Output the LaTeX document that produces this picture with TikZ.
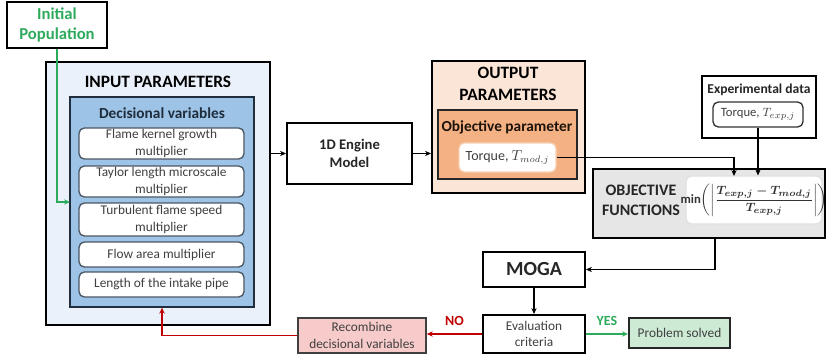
\documentclass[tikz,border=0pt]{standalone}
\usepackage{fontspec}
\setmainfont{Carlito}
\usetikzlibrary{fit,arrows.meta}
\definecolor{inpblue}{HTML}{EAF1FA}
\definecolor{decblue}{HTML}{9DC3E6}
\definecolor{outpeach}{HTML}{FBE5D6}
\definecolor{objorange}{HTML}{F4B183}
\definecolor{objgray}{HTML}{E7E6E6}
\definecolor{recpink}{HTML}{F8CBCB}
\definecolor{solgreen}{HTML}{CDEAD5}
\definecolor{grn}{HTML}{2EAA5C}
\definecolor{rd}{HTML}{C00000}
\definecolor{txt}{HTML}{3F3F3F}
\definecolor{navy}{HTML}{1F2D3D}
\newcommand\objformula{$\displaystyle\min\biggl(\biggl|\frac{T_{exp,j}-T_{mod,j}}{T_{exp,j}}\biggr|\biggr)$}
\tikzset{
  every node/.style={font=\fontsize{10}{12.5}\selectfont, text=txt, align=center, inner sep=0pt},
  bigbox/.style={draw=black, line width=1.5pt},
  varbox/.style={draw=navy!80, line width=1pt, fill=white, rounded corners=4pt},
  conn/.style={line width=1.2pt, -{Stealth[length=4.5pt,width=4pt]}},
  ttl/.style={font=\bfseries\fontsize{13}{17}\selectfont, text=black},
  sub/.style={font=\bfseries\fontsize{11.5}{14}\selectfont, text=navy},
  bold/.style={font=\bfseries\fontsize{11}{13.5}\selectfont, text=black!85},
  lbl/.style={font=\bfseries\fontsize{10.5}{12}\selectfont},
}
\begin{document}
\begin{tikzpicture}[x=0.75pt,y=-0.75pt]
\useasboundingbox (0,0) rectangle (826,354);
% input parameters
\node[bigbox, fill=inpblue, fit={(46,62) (270,325)}] (inp) {};
\node[ttl] (inpt) at (158,82) {INPUT PARAMETERS};
\node[draw=navy, line width=1pt, fill=decblue, fit={(70,97) (254,307)}] (dec) {};
\node[sub] (dect) at (162,113) {Decisional variables};
\node[varbox, fit={(79,128) (244,159)}] (v1) {};
\node[varbox, fit={(79,166) (244,197)}] (v2) {};
\node[varbox, fit={(79,203) (244,236)}] (v3) {};
\node[varbox, fit={(79,242) (244,267)}] (v4) {};
\node[varbox, fit={(79,272) (244,297)}] (v5) {};
\node (v1t) at (v1.center) {Flame kernel growth\\multiplier};
\node (v2t) at (v2.center) {Taylor length microscale\\multiplier};
\node (v3t) at (v3.center) {Turbulent flame speed\\multiplier};
\node (v4t) at (v4.center) {Flow area multiplier};
\node (v5t) at (v5.center) {Length of the intake pipe};
% initial population
\node[bigbox, fill=white, fit={(7,2) (107,48)}] (init) {};
\node[font=\bfseries\fontsize{12.5}{15}\selectfont, text=grn] (initt) at (init.center) {Initial\\Population};
% engine
\node[bigbox, fill=white, fit={(287,123) (412,184)}] (eng) {};
\node[bold] (engt) at (eng.center) {1D Engine\\Model};
% output
\node[bigbox, fill=outpeach, fit={(432,61) (585,193)}] (out) {};
\node[ttl, font=\bfseries\fontsize{13}{16}\selectfont] (outt) at (508,84) {OUTPUT\\PARAMETERS};
\node[draw=black!85, line width=1pt, fill=objorange, fit={(438,110) (577,179)}] (obp) {};
\node[sub, text=black!85!brown] (obpt) at (507,127) {Objective parameter};
\node[draw=objorange!60, line width=1pt, fill=white, rounded corners=4pt, fit={(459,143) (556,172)}] (tmod) {};
\node[font=\fontsize{10.5}{12}\selectfont] (tmodt) at (tmod.center) {Torque, $T_{mod,j}$};
% experimental data
\node[bigbox, fill=white, fit={(702,76) (816,138)}] (exp) {};
\node[font=\bfseries\fontsize{10.2}{12}\selectfont, text=black!85] (expt) at (759,90) {Experimental data};
\node[draw=black!80, line width=1pt, fill=white, rounded corners=4pt, fit={(713,102) (803,127)}] (texp) {};
\node[font=\fontsize{9.5}{11}\selectfont] (texpt) at (texp.center) {Torque, $T_{exp,j}$};
% objective functions
\node[bigbox, fill=objgray, fit={(593,169) (825,238)}] (obj) {};
\node[font=\bfseries\fontsize{12}{15}\selectfont, text=black!85] (objt) at (641,200) {OBJECTIVE\\FUNCTIONS};
\node[draw=black!12, line width=0.8pt, fill=white, rounded corners=5pt, fit={(686,176) (822,224)}] (form) {};
\node[font=\boldmath\fontsize{9.5}{12}\selectfont, text=black!80] (formt) at (form.center) {\objformula};
% MOGA and evaluation
\node[bigbox, fill=white, fit={(483,252) (585,287)}] (moga) {};
\node[font=\bfseries\fontsize{15}{17}\selectfont, text=black!85] (mogat) at (moga.center) {MOGA};
\node[bigbox, fill=white, fit={(483,315) (585,353)}] (eval) {};
\node (evalt) at (eval.center) {Evaluation\\criteria};
\node[draw=black!75, line width=1.2pt, fill=recpink, fit={(298,318) (426,353)}] (rec) {};
\node (rect) at (rec.center) {Recombine\\decisional variables};
\node[draw=black!85, line width=1.5pt, fill=solgreen, fit={(629,318) (730,348)}] (sol) {};
\node (solt) at (sol.center) {Problem solved};
% coordinates
\coordinate (gin) at (70,202);
\coordinate (fa) at (734,176);
\coordinate (o1) at (715,238);
% connectors
\draw[conn, grn] (init.south) |- (gin);
\draw[conn] (inp.east |- eng.west) -- (eng.west);
\draw[conn] (eng.east) -- (eng.east -| out.west);
\draw[conn] (tmod.east) -| (fa);
\draw[conn] (texp.south) -- (texp.south |- form.north);
\draw[conn] (o1) |- (moga.east);
\draw[conn] (moga.south) -- (eval.north);
\draw[conn, rd] (eval.west) -- node[above=6pt, lbl, text=rd] (no) {NO} (eval.west -| rec.east);
\draw[conn, rd] (rec.west) -| (dec.south);
\draw[conn, grn] (eval.east) -- node[above=6pt, lbl, text=grn] (yes) {YES} (eval.east -| sol.west);
\end{tikzpicture}
\end{document}
